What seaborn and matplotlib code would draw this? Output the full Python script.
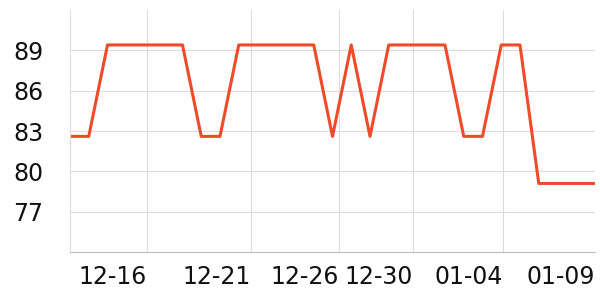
import matplotlib
matplotlib.use("Agg")
import matplotlib.pyplot as plt
import seaborn as sns
import pandas as pd

values = [82.6, 82.6, 89.4, 89.4, 89.4, 89.4, 89.4, 82.6, 82.6, 89.4,
          89.4, 89.4, 89.4, 89.4, 82.6, 89.4, 82.6, 89.4, 89.4, 89.4,
          89.4, 82.6, 82.6, 89.4, 89.4, 79.1, 79.1, 79.1, 79.1]
tick_labels = ["12-16", "12-21", "12-26", "12-30", "01-04", "01-09"]
tick_pos = [4.107, 9.63, 14.32, 18.29, 23.09, 28.0]
y_ticks = [77, 80, 83, 86, 89]

df = pd.DataFrame({"i": list(range(len(values))), "v": values})

sns.set_style("white")
plt.rcParams['font.family'] = ['DejaVu Sans']

fig = plt.figure(figsize=(6, 3), dpi=100)
ax = fig.add_axes([70/600, 48/300, 525/600, 242/300])
sns.lineplot(data=df, x="i", y="v", ax=ax, color="#ee4b2b", linewidth=2.2)

ax.set_xlim(0, 28)
ax.set_ylim(74, 92)
ax.set_yticks(y_ticks)
ax.set_yticklabels([str(t) for t in y_ticks], fontsize=17)
ax.set_xticks(tick_pos)
ax.set_xticklabels(tick_labels, fontsize=17, ha="right")
ax.set_xlabel("")
ax.set_ylabel("")

ax.grid(True, color="#dcdcdc", linewidth=0.8)
ax.set_axisbelow(True)
for s in ["top", "right"]:
    ax.spines[s].set_visible(False)
ax.spines["left"].set_color("#dcdcdc")
ax.spines["left"].set_linewidth(0.8)
ax.spines["bottom"].set_color("#bbbbbb")
ax.spines["bottom"].set_linewidth(0.8)
ax.tick_params(axis="x", length=3, color="#bbbbbb", pad=6, labelcolor="#111111")
ax.tick_params(axis="y", length=2, color="#dcdcdc", pad=17, labelcolor="#111111")

fig.canvas.draw()
ax.get_xgridlines()[-1].set_visible(False)
ax.xaxis.get_major_ticks()[-1].tick1line.set_visible(False)
ax.xaxis.get_major_ticks()[-1].label1.set_x(28.0)

fig.savefig("out.png", dpi=100)
